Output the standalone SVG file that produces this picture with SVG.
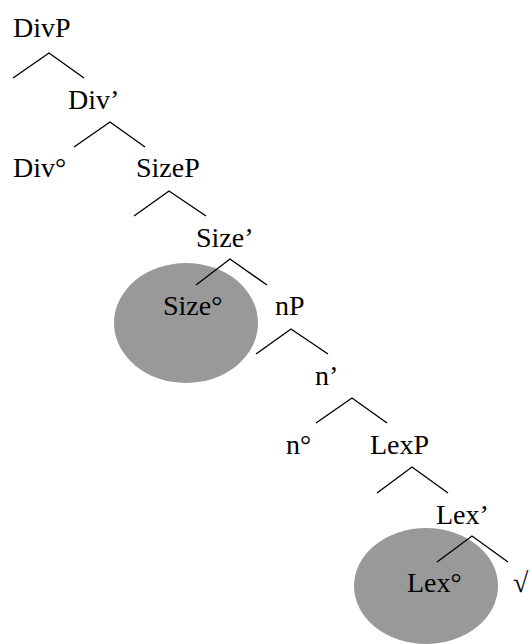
<svg xmlns="http://www.w3.org/2000/svg" width="532" height="644" viewBox="0 0 532 644">
<style>
.t text{font-family:'Times New Roman',Tinos,'DejaVu Serif',serif;font-size:28px;fill:#000}
.e{stroke:#000;stroke-width:1.4;fill:none}
.hl{fill:#999999}
</style>
<rect width="532" height="644" fill="#fff"/>
<ellipse class="hl" cx="186" cy="323" rx="72" ry="60"/>
<ellipse class="hl" cx="426" cy="586" rx="72" ry="58"/>
<g id="connectors">
<polyline class="e" points="13,78 49,53 84,78"/>
<polyline class="e" points="74,147 110,122 145,147"/>
<polyline class="e" points="134,216 169,191 206,216"/>
<polyline class="e" points="196,285 230,259 267,285"/>
<polyline class="e" points="256,354 291,329 328,354"/>
<polyline class="e" points="316,423 352,398 387,423"/>
<polyline class="e" points="377,493 412,467 448,493"/>
<polyline class="e" points="437,562 472,536 508,562"/>
</g>
<g class="t">
<g id="DivP"><text x="13" y="37">DivP</text></g>
<g id="DivBar"><text x="68" y="109">Div’</text></g>
<g id="Div0"><text x="13" y="177">Div°</text></g>
<g id="SizeP"><text x="136" y="177">SizeP</text></g>
<g id="SizeBar"><text x="196" y="247">Size’</text></g>
<g id="Size0"><text x="163" y="315">Size°</text></g>
<g id="nP"><text x="275" y="315">nP</text></g>
<g id="nBar"><text x="315" y="385">n’</text></g>
<g id="n0"><text x="286" y="454">n°</text></g>
<g id="LexP"><text x="370" y="454">LexP</text></g>
<g id="LexBar"><text x="436" y="524">Lex’</text></g>
<g id="Lex0"><text x="407" y="592">Lex°</text></g>
<g id="root"><text x="513" y="592">√</text></g>
</g>
</svg>
